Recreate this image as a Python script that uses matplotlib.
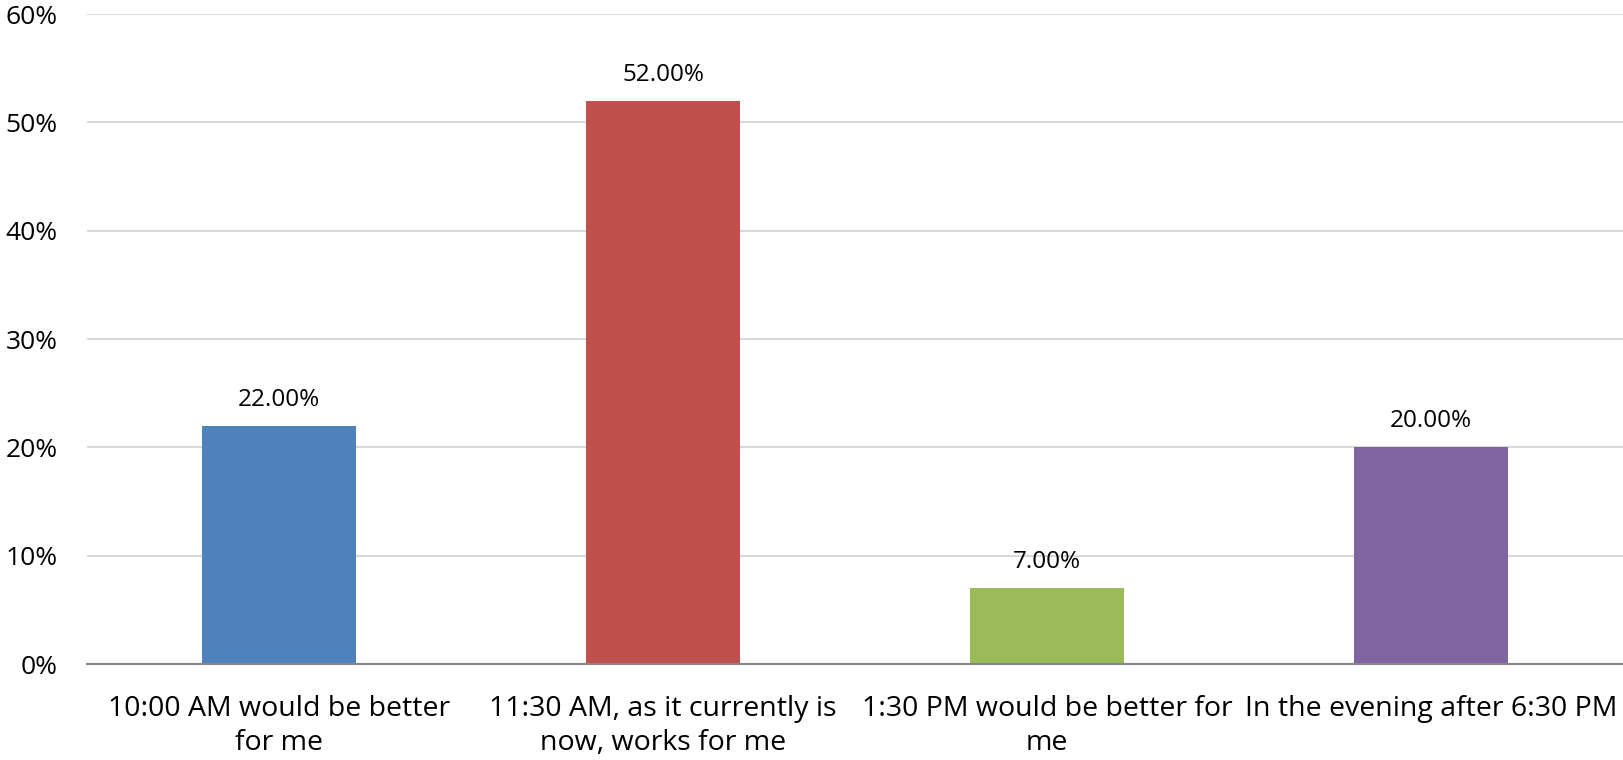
import matplotlib

matplotlib.use("Agg")
import matplotlib.pyplot as plt
from matplotlib.ticker import FuncFormatter, MultipleLocator

categories = [
    "10:00 AM would be better\nfor me",
    "11:30 AM, as it currently is\nnow, works for me",
    "1:30 PM would be better for\nme",
    "In the evening after 6:30 PM",
]
values = [22.0, 52.0, 7.0, 20.0]
colors = ["#4F81BD", "#C0504D", "#9BBB59", "#8064A2"]

plt.rcParams["font.family"] = ["Open Sans", "DejaVu Sans"]

W, H, DPI = 1623, 760, 100
fig = plt.figure(figsize=(W / DPI, H / DPI), dpi=DPI)
ax = fig.add_axes([87 / W, 1 - 664 / H, (W - 87) / W, 650 / H])

x = range(len(categories))
ax.bar(x, values, width=0.40, color=colors, zorder=2)
for xi, v in zip(x, values):
    ax.annotate(f"{v:.2f}%", (xi, v), xytext=(0, 10), textcoords="offset points",
                ha="center", va="bottom", fontsize=17.5, color="#000000")

ax.set_xlim(-0.5, len(categories) - 0.5)
ax.set_ylim(0, 60)
ax.yaxis.set_major_locator(MultipleLocator(10))
ax.yaxis.set_major_formatter(FuncFormatter(lambda v, _: f"{v:.0f}%"))
ax.grid(axis="y", color="#D9D9D9", linewidth=1.5, zorder=0)
ax.set_axisbelow(True)

ax.set_xticks(list(x))
ax.set_xticklabels(categories, fontsize=20.5, linespacing=1.3)
ax.tick_params(axis="y", labelsize=19, length=0, pad=21)
ax.tick_params(axis="x", length=0, pad=22)

for side in ("top", "right", "left"):
    ax.spines[side].set_visible(False)
ax.spines["bottom"].set_color("#868686")
ax.spines["bottom"].set_linewidth(1.5)

fig.savefig("out.png", dpi=DPI)
